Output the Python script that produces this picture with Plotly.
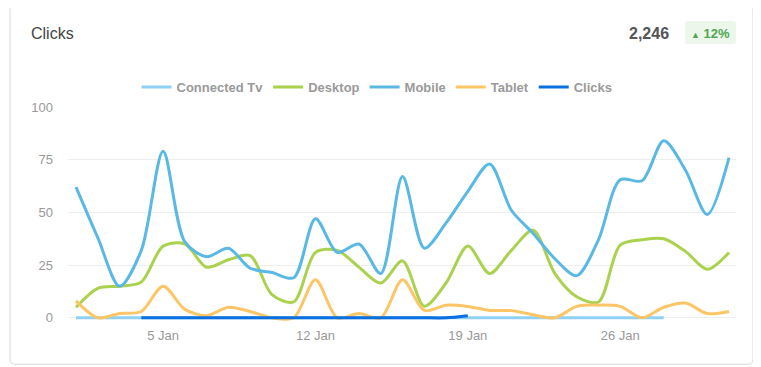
import plotly.graph_objects as go
import pandas as pd

# ---------------- data ----------------
dates = pd.date_range("2025-01-01", "2025-01-31", freq="D")
series_names = ["Connected Tv", "Desktop", "Mobile", "Tablet", "Clicks"]
connected_tv = [0] * 28 + [None] * 3
desktop = [5, 14, 15, 17, 34, 35, 24, 27.5, 29.5, 11, 7.5, 31, 32, 24, 16.5, 27,
           5.5, 16.5, 34, 21, 32, 41.5, 21, 10, 7.5, 34.5, 37, 37.5, 31.5, 23, 31]
mobile = [62, 38, 15, 32, 79, 36, 29, 33, 23.5, 21.5, 19, 47, 31, 35, 21, 67,
          33, 45, 60, 73, 51, 40, 28, 20, 37, 65.5, 65, 84, 70, 49, 76]
tablet = [8, 0, 2, 3, 15, 4, 1, 5, 3, 0, 0, 18, 0, 2, 0, 18,
          3.5, 6, 5.4, 3.5, 3.4, 1.4, 0, 5.4, 6, 5.4, 0, 5, 7, 2, 3]
clicks = [None] * 3 + [0] * 15 + [1] + [None] * 12
tick_dates = ["2025-01-05", "2025-01-12", "2025-01-19", "2025-01-26"]
tick_labels = ["5 Jan", "12 Jan", "19 Jan", "26 Jan"]
y_ticks = [0, 25, 50, 75, 100]
title_text = "Clicks"
total_text = "2,246"
change_arrow = "▲"
change_text = "12%"

colors = ["#8fd0f6", "#aad24f", "#5ab8e5", "#fcc566", "#0a6fe0"]
values = [connected_tv, desktop, mobile, tablet, clicks]

# ---------------- layout geometry (pixels, page coords) ----------------
OFF = 8                    # default page body margin
W, H = 761 - OFF, 367 - OFF
PL, PR = 68 - OFF, 736 - OFF          # plot area left/right
PT, PB = 107 - OFF, 322.2 - OFF       # plot area top/bottom


def px_x(p):
    return (p - OFF - PL) / (PR - PL)


def px_y(q):
    return (PB - (q - OFF)) / (PB - PT)


def rounded(x0p, x1p, y0p, y1p, r):
    x0, x1, y0, y1 = px_x(x0p), px_x(x1p), px_y(y0p), px_y(y1p)
    rx = r / (PR - PL)
    ry = r / (PB - PT)
    return (f"M {x0+rx},{y0} L {x1-rx},{y0} Q {x1},{y0} {x1},{y0-ry} "
            f"L {x1},{y1+ry} Q {x1},{y1} {x1-rx},{y1} L {x0+rx},{y1} "
            f"Q {x0},{y1} {x0},{y1+ry} L {x0},{y0-ry} Q {x0},{y0} {x0+rx},{y0} Z")


fig = go.Figure()
for name, vals, col in zip(series_names, values, colors):
    fig.add_trace(go.Scatter(
        x=dates, y=vals, name=name, mode="lines",
        line=dict(color=col, width=3, shape="spline", smoothing=0.85),
        hoverinfo="skip", connectgaps=False,
    ))

shapes = [
    dict(type="path", xref="paper", yref="paper", path=rounded(10, 753, 4.5, 364.5, 5),
         line=dict(color="#d5d8dc", width=1), fillcolor="rgba(0,0,0,0)", layer="below"),
    dict(type="path", xref="paper", yref="paper", path=rounded(685, 736, 21, 44, 3),
         line=dict(width=0), fillcolor="#ecf6ea", layer="below"),
]

annotations = [
    dict(text=title_text, xref="paper", yref="paper", x=px_x(29), y=px_y(33),
         xanchor="left", yanchor="middle", showarrow=False,
         font=dict(family="Liberation Sans, Arial, sans-serif", size=16, color="#444444")),
    dict(text=f"<b>{total_text}</b>", xref="paper", yref="paper", x=px_x(671), y=px_y(33),
         xanchor="right", yanchor="middle", showarrow=False,
         font=dict(family="Liberation Sans, Arial, sans-serif", size=16, color="#555555")),
    dict(text=f"<span style='font-size:9px'>{change_arrow}</span> <b>{change_text}</b>",
         xref="paper", yref="paper", x=px_x(710.5), y=px_y(33),
         xanchor="center", yanchor="middle", showarrow=False,
         font=dict(family="Liberation Sans, Arial, sans-serif", size=13, color="#4fa653")),
]

fig.update_layout(
    width=W, height=H,
    margin=dict(l=PL, r=W - PR, t=PT, b=H - PB, pad=0),
    paper_bgcolor="white", plot_bgcolor="white",
    font=dict(family="Liberation Sans, Arial, sans-serif", color="#999999"),
    showlegend=True,
    legend=dict(orientation="h", x=px_x(377), xanchor="center", y=px_y(87), yanchor="middle",
                font=dict(size=13, color="#9a9a9a", weight="bold"),
                itemwidth=30, traceorder="normal", bgcolor="rgba(0,0,0,0)"),
    shapes=shapes,
    annotations=annotations,
    hovermode=False,
    xaxis=dict(
        range=["2024-12-31 15:10", "2025-01-31 07:40"],
        tickvals=tick_dates, ticktext=tick_labels,
        showgrid=False, zeroline=False, showline=False,
        tickfont=dict(size=13, color="#999999"),
        ticks="", ticklabelstandoff=4,
    ),
    yaxis=dict(
        range=[-2, 100], tickvals=y_ticks,
        showgrid=True, gridcolor="#eeeeee", gridwidth=1,
        zeroline=False, showline=False,
        tickfont=dict(size=13, color="#999999"),
        ticks="", ticklabelstandoff=14,
    ),
)

fig.write_html("out.html", config={"displayModeBar": False})
